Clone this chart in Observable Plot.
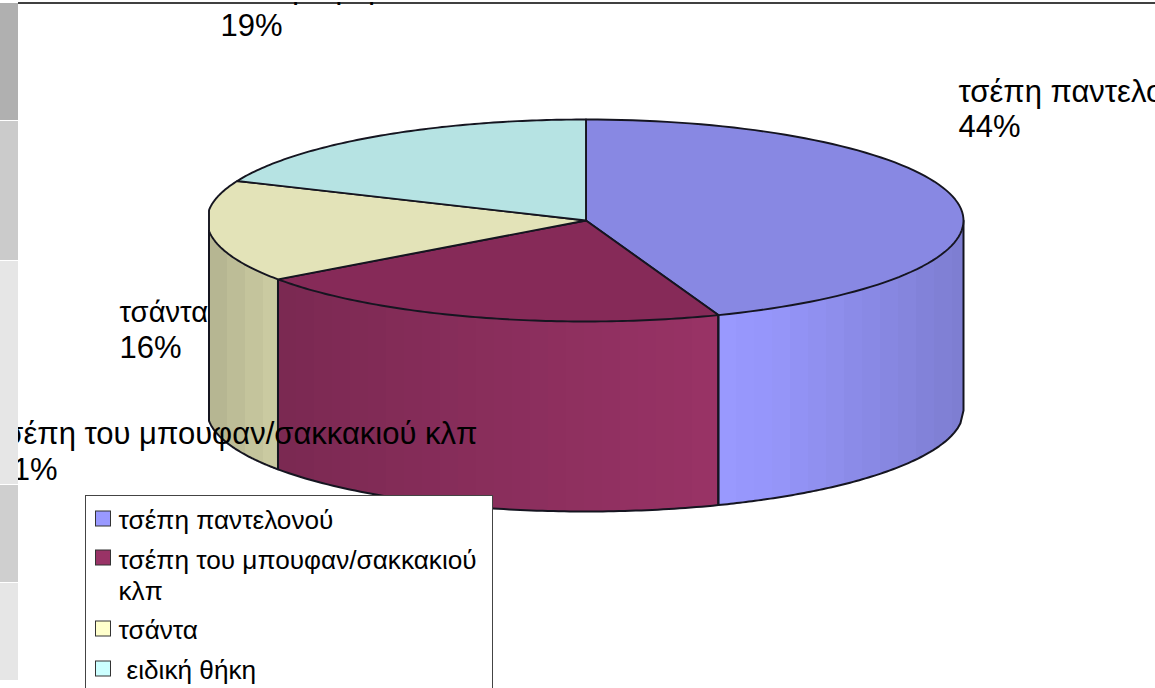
<!DOCTYPE html>
<html><head><meta charset="utf-8">
<script src="https://cdn.jsdelivr.net/npm/d3@7"></script>
<script src="https://cdn.jsdelivr.net/npm/@observablehq/plot@0.6"></script>
<style>html,body{margin:0;background:#fff;overflow:hidden}svg{display:block}</style>
</head><body><div id="chart"></div>
<script>
// Data
const categories = ["τσέπη παντελονού", "τσέπη του μπουφαν/σακκακιού κλπ", "τσάντα", "ειδική θήκη"];
const shares = [44.3, 20.8, 16.3, 18.6];
const swatchColors = ["#9999FF", "#993366", "#FFFFCC", "#CCFFFF"];

// 3D pie geometry
const W = 1155, H = 688;
const cx = 585.5, cy = 220, rxRight = 377.5, rxLeft = 379, leftEdge = 208.5, ry = 101, depth = 190;
const wallLight = d3.scaleLinear().domain([208, 276, 720, 770, 963]).range([0.7, 0.8, 1, 0.98, 0.82]);
const shade = (c, f) => { const q = d3.rgb(c); return d3.rgb(q.r * f, q.g * f, q.b * f).formatHex(); };
const topColors = ["#8888E3", "#862A58", "#E3E3B8", "#B6E3E3"];

const total = d3.sum(shares);
let acc = 0;
const slices = shares.map((v, i) => {
  const a0 = acc / total * 2 * Math.PI; acc += v;
  return {i, a0, a1: acc / total * 2 * Math.PI};
});
const px = a => {
  const s = Math.sin(a);
  return Math.max(leftEdge, cx + (s < 0 ? rxLeft : rxRight) * s);
};
const py = a => cy - ry * Math.cos(a);

// top faces
const topPts = [];
for (const s of slices) {
  const id = "top" + s.i;
  topPts.push({id, x: cx, y: cy, fill: topColors[s.i]});
  const n = 90;
  for (let k = 0; k <= n; k++) {
    const a = s.a0 + (s.a1 - s.a0) * k / n;
    topPts.push({id, x: px(a), y: py(a), fill: topColors[s.i]});
  }
  topPts.push({id, x: cx, y: cy, fill: topColors[s.i]});
}

// front walls, banded like the reference
const stripPts = [], wallEdges = [];
const frontY = x => {
  const r = x < cx ? rxLeft : rxRight;
  return cy + ry * Math.sqrt(Math.max(0, 1 - ((x - cx) / r) ** 2));
};
for (const s of slices) {
  const lo = Math.max(s.a0, Math.PI / 2), hi = Math.min(s.a1, 1.5 * Math.PI);
  if (hi <= lo) continue;
  const xa = px(hi), xb = px(lo);
  const step = 18;
  const edges = [xa];
  for (let x = xa + step; x < xb - 2; x += step) edges.push(x);
  edges.push(xb);
  for (let e = 0; e < edges.length - 1; e++) {
    const id = `w${s.i}-${e}`, x0 = edges[e], x1 = edges[e + 1];
    const fill = shade(swatchColors[s.i], wallLight((x0 + x1) / 2));
    const xs = d3.range(7).map(k => x0 + (x1 - x0) * k / 6);
    for (const x of xs) stripPts.push({id, x, y: frontY(x), fill});
    for (const x of xs.slice().reverse()) stripPts.push({id, x, y: frontY(x) + depth, fill});
  }
  const id = "edge" + s.i;
  const outline = [{id, x: xa, y: frontY(xa)}];
  for (let k = 0; k <= 80; k++) { const x = xa + (xb - xa) * k / 80; outline.push({id, x, y: frontY(x) + depth}); }
  outline.push({id, x: xb, y: frontY(xb)});
  wallEdges.push(...outline);
}

// labels
const labelSize = 31, narrowLabelSize = 29.2, legendSize = 26.2;
const labelLines = [
  {t: categories[3], x: 221, y: -3},
  {t: Math.round(shares[3]) + "%", x: 220, y: 35},
  {t: categories[0], x: 958, y: 101},
  {t: Math.round(shares[0]) + "%", x: 958, y: 136},
  {t: Math.round(shares[2]) + "%", x: 119, y: 357},
  {t: categories[1], x: -8, y: 443},
  {t: Math.round(shares[1]) + "%", x: -5, y: 479}
];
const narrowLabelLines = [{t: categories[2], x: 119, y: 321}];
const legendLines = [
  {t: categories[0], x: 118, y: 528},
  {t: "τσέπη του μπουφαν/σακκακιού", x: 118, y: 568},
  {t: "κλπ", x: 118, y: 599},
  {t: categories[2], x: 118, y: 638},
  {t: categories[3], x: 126, y: 678}
];
const legendSwatches = [
  {c: swatchColors[0], y: 511},
  {c: swatchColors[1], y: 550},
  {c: swatchColors[2], y: 621},
  {c: swatchColors[3], y: 661}
];
const sidebar = [
  {y1: 3, y2: 120, c: "#B0B0B0"},
  {y1: 121, y2: 260, c: "#CBCBCB"},
  {y1: 261, y2: 484, c: "#E6E6E6"},
  {y1: 485, y2: 582, c: "#CFCFCF"},
  {y1: 583, y2: 680, c: "#E6E6E6"}
];

const chart = Plot.plot({
  width: W, height: H,
  margin: 0,
  x: {domain: [0, W], range: [0, W], axis: null},
  y: {domain: [0, H], range: [0, H], axis: null},
  style: {fontFamily: "Liberation Sans", background: "#fff"},
  marks: [
    Plot.line(stripPts, {x: "x", y: "y", z: "id", fill: "fill", stroke: "none", shapeRendering: "crispEdges", curve: "linear"}),
    Plot.line(wallEdges, {x: "x", y: "y", z: "id", stroke: "#151520", strokeWidth: 2, curve: "linear"}),
    Plot.line(topPts, {x: "x", y: "y", z: "id", fill: "fill", stroke: "#151520", strokeWidth: 1.9, curve: "linear"}),
    Plot.text(labelLines, {x: "x", y: "y", text: "t", textAnchor: "start", lineAnchor: "bottom", fontSize: labelSize, fill: "#000"}),
    Plot.text(narrowLabelLines, {x: "x", y: "y", text: "t", textAnchor: "start", lineAnchor: "bottom", fontSize: narrowLabelSize, fill: "#000"}),
    // legend box
    Plot.rect([{x1: 85.5, x2: 492.5, y1: 495.5, y2: 700}], {x1: "x1", x2: "x2", y1: "y1", y2: "y2", fill: "#fff", stroke: "#444", strokeWidth: 1}),
    Plot.rect(legendSwatches, {x1: () => 95.5, x2: () => 110.5, y1: d => d.y, y2: d => d.y + 15, fill: "c", stroke: "#333", strokeWidth: 1}),
    Plot.text(legendLines, {x: "x", y: "y", text: "t", textAnchor: "start", lineAnchor: "bottom", fontSize: legendSize, fill: "#000"}),
    // window chrome: left strip and top rule
    Plot.rect(sidebar, {x1: () => 0, x2: () => 18, y1: "y1", y2: "y2", fill: "c"}),
    Plot.rect([{}], {x1: () => 0, x2: () => W, y1: () => 0, y2: () => 2, fill: "#fff"}),
    Plot.ruleY([2.5], {x1: 18, x2: W, stroke: "#000", strokeWidth: 1.5})
  ]
});
document.getElementById("chart").append(chart);
</script></body></html>
